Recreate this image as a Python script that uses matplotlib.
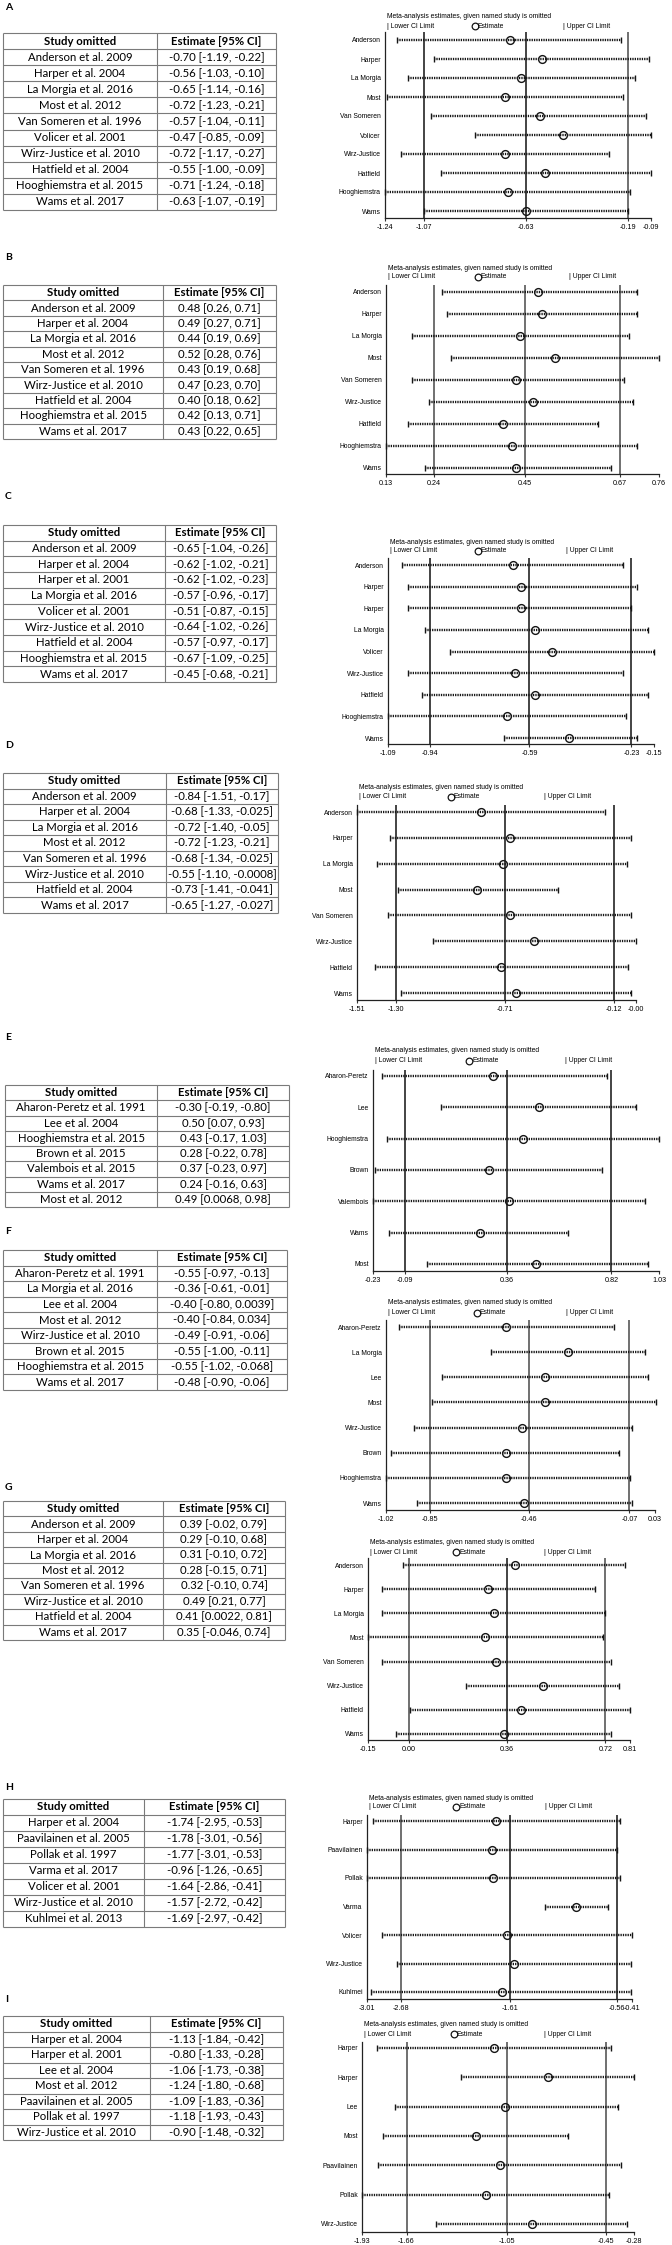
import matplotlib
matplotlib.use("Agg")
import matplotlib.pyplot as plt
from matplotlib.lines import Line2D

# ---------------- DATA ----------------
# Panel A
tab_names_A = ["Anderson et al. 2009", "Harper et al. 2004", "La Morgia et al. 2016", "Most et al. 2012",
               "Van Someren et al. 1996", "Volicer et al. 2001", "Wirz-Justice et al. 2010", "Hatfield et al. 2004",
               "Hooghiemstra et al. 2015", "Wams et al. 2017"]
tab_est_A = ["-0.70 [-1.19, -0.22]", "-0.56 [-1.03, -0.10]", "-0.65 [-1.14, -0.16]", "-0.72 [-1.23, -0.21]",
             "-0.57 [-1.04, -0.11]", "-0.47 [-0.85, -0.09]", "-0.72 [-1.17, -0.27]", "-0.55 [-1.00, -0.09]",
             "-0.71 [-1.24, -0.18]", "-0.63 [-1.07, -0.19]"]
labels_A = ["Anderson", "Harper", "La Morgia", "Most", "Van Someren", "Volicer", "Wirz-Justice", "Hatfield",
            "Hooghiemstra", "Wams"]
est_A = [-0.70, -0.56, -0.65, -0.72, -0.57, -0.47, -0.72, -0.55, -0.71, -0.63]
lo_A = [-1.19, -1.03, -1.14, -1.23, -1.04, -0.85, -1.17, -1.00, -1.24, -1.07]
hi_A = [-0.22, -0.10, -0.16, -0.21, -0.11, -0.09, -0.27, -0.09, -0.18, -0.19]
ticks_A = [-1.24, -1.07, -0.63, -0.19, -0.09]
ticklabels_A = ["-1.24", "-1.07", "-0.63", "-0.19", "-0.09"]

# Panel B
tab_names_B = ["Anderson et al. 2009", "Harper et al. 2004", "La Morgia et al. 2016", "Most et al. 2012",
               "Van Someren et al. 1996", "Wirz-Justice et al. 2010", "Hatfield et al. 2004",
               "Hooghiemstra et al. 2015", "Wams et al. 2017"]
tab_est_B = ["0.48 [0.26, 0.71]", "0.49 [0.27, 0.71]", "0.44 [0.19, 0.69]", "0.52 [0.28, 0.76]",
             "0.43 [0.19, 0.68]", "0.47 [0.23, 0.70]", "0.40 [0.18, 0.62]", "0.42 [0.13, 0.71]",
             "0.43 [0.22, 0.65]"]
labels_B = ["Anderson", "Harper", "La Morgia", "Most", "Van Someren", "Wirz-Justice", "Hatfield",
            "Hooghiemstra", "Wams"]
est_B = [0.48, 0.49, 0.44, 0.52, 0.43, 0.47, 0.40, 0.42, 0.43]
lo_B = [0.26, 0.27, 0.19, 0.28, 0.19, 0.23, 0.18, 0.13, 0.22]
hi_B = [0.71, 0.71, 0.69, 0.76, 0.68, 0.70, 0.62, 0.71, 0.65]
ticks_B = [0.13, 0.24, 0.45, 0.67, 0.76]
ticklabels_B = ["0.13", "0.24", "0.45", "0.67", "0.76"]

# Panel C
tab_names_C = ["Anderson et al. 2009", "Harper et al. 2004", "Harper et al. 2001", "La Morgia et al. 2016",
               "Volicer et al. 2001", "Wirz-Justice et al. 2010", "Hatfield et al. 2004",
               "Hooghiemstra et al. 2015", "Wams et al. 2017"]
tab_est_C = ["-0.65 [-1.04, -0.26]", "-0.62 [-1.02, -0.21]", "-0.62 [-1.02, -0.23]", "-0.57 [-0.96, -0.17]",
             "-0.51 [-0.87, -0.15]", "-0.64 [-1.02, -0.26]", "-0.57 [-0.97, -0.17]", "-0.67 [-1.09, -0.25]",
             "-0.45 [-0.68, -0.21]"]
labels_C = ["Anderson", "Harper", "Harper", "La Morgia", "Volicer", "Wirz-Justice", "Hatfield",
            "Hooghiemstra", "Wams"]
est_C = [-0.65, -0.62, -0.62, -0.57, -0.51, -0.64, -0.57, -0.67, -0.45]
lo_C = [-1.04, -1.02, -1.02, -0.96, -0.87, -1.02, -0.97, -1.09, -0.68]
hi_C = [-0.26, -0.21, -0.23, -0.17, -0.15, -0.26, -0.17, -0.25, -0.21]
ticks_C = [-1.09, -0.94, -0.59, -0.23, -0.15]
ticklabels_C = ["-1.09", "-0.94", "-0.59", "-0.23", "-0.15"]

# Panel D
tab_names_D = ["Anderson et al. 2009", "Harper et al. 2004", "La Morgia et al. 2016", "Most et al. 2012",
               "Van Someren et al. 1996", "Wirz-Justice et al. 2010", "Hatfield et al. 2004", "Wams et al. 2017"]
tab_est_D = ["-0.84 [-1.51, -0.17]", "-0.68 [-1.33, -0.025]", "-0.72 [-1.40, -0.05]", "-0.72 [-1.23, -0.21]",
             "-0.68 [-1.34, -0.025]", "-0.55 [-1.10, -0.0008]", "-0.73 [-1.41, -0.041]", "-0.65 [-1.27, -0.027]"]
labels_D = ["Anderson", "Harper", "La Morgia", "Most", "Van Someren", "Wirz-Justice", "Hatfield", "Wams"]
est_D = [-0.84, -0.68, -0.72, -0.86, -0.68, -0.55, -0.73, -0.65]
lo_D = [-1.51, -1.33, -1.40, -1.29, -1.34, -1.10, -1.41, -1.27]
hi_D = [-0.17, -0.025, -0.05, -0.42, -0.025, -0.0008, -0.041, -0.027]
ticks_D = [-1.51, -1.30, -0.71, -0.12, 0.00]
ticklabels_D = ["-1.51", "-1.30", "-0.71", "-0.12", "-0.00"]

# Panel E
tab_names_E = ["Aharon-Peretz et al. 1991", "Lee et al. 2004", "Hooghiemstra et al. 2015", "Brown et al. 2015",
               "Valembois et al. 2015", "Wams et al. 2017", "Most et al. 2012"]
tab_est_E = ["-0.30 [-0.19, -0.80]", "0.50 [0.07, 0.93]", "0.43 [-0.17, 1.03]", "0.28 [-0.22, 0.78]",
             "0.37 [-0.23, 0.97]", "0.24 [-0.16, 0.63]", "0.49 [0.0068, 0.98]"]
labels_E = ["Aharon-Peretz", "Lee", "Hooghiemstra", "Brown", "Valembois", "Wams", "Most"]
est_E = [0.30, 0.50, 0.43, 0.28, 0.37, 0.24, 0.49]
lo_E = [-0.19, 0.07, -0.17, -0.22, -0.23, -0.16, 0.0068]
hi_E = [0.80, 0.93, 1.03, 0.78, 0.97, 0.63, 0.98]
ticks_E = [-0.23, -0.09, 0.36, 0.82, 1.03]
ticklabels_E = ["-0.23", "-0.09", "0.36", "0.82", "1.03"]

# Panel F
tab_names_F = ["Aharon-Peretz et al. 1991", "La Morgia et al. 2016", "Lee et al. 2004", "Most et al. 2012",
               "Wirz-Justice et al. 2010", "Brown et al. 2015", "Hooghiemstra et al. 2015", "Wams et al. 2017"]
tab_est_F = ["-0.55 [-0.97, -0.13]", "-0.36 [-0.61, -0.01]", "-0.40 [-0.80, 0.0039]", "-0.40 [-0.84, 0.034]",
             "-0.49 [-0.91, -0.06]", "-0.55 [-1.00, -0.11]", "-0.55 [-1.02, -0.068]", "-0.48 [-0.90, -0.06]"]
labels_F = ["Aharon-Peretz", "La Morgia", "Lee", "Most", "Wirz-Justice", "Brown", "Hooghiemstra", "Wams"]
est_F = [-0.55, -0.31, -0.40, -0.40, -0.49, -0.55, -0.55, -0.48]
lo_F = [-0.97, -0.61, -0.80, -0.84, -0.91, -1.00, -1.02, -0.90]
hi_F = [-0.13, -0.01, 0.0039, 0.034, -0.06, -0.11, -0.068, -0.06]
ticks_F = [-1.02, -0.85, -0.46, -0.07, 0.03]
ticklabels_F = ["-1.02", "-0.85", "-0.46", "-0.07", "0.03"]

# Panel G
tab_names_G = ["Anderson et al. 2009", "Harper et al. 2004", "La Morgia et al. 2016", "Most et al. 2012",
               "Van Someren et al. 1996", "Wirz-Justice et al. 2010", "Hatfield et al. 2004", "Wams et al. 2017"]
tab_est_G = ["0.39 [-0.02, 0.79]", "0.29 [-0.10, 0.68]", "0.31 [-0.10, 0.72]", "0.28 [-0.15, 0.71]",
             "0.32 [-0.10, 0.74]", "0.49 [0.21, 0.77]", "0.41 [0.0022, 0.81]", "0.35 [-0.046, 0.74]"]
labels_G = ["Anderson", "Harper", "La Morgia", "Most", "Van Someren", "Wirz-Justice", "Hatfield", "Wams"]
est_G = [0.39, 0.29, 0.31, 0.28, 0.32, 0.49, 0.41, 0.35]
lo_G = [-0.02, -0.10, -0.10, -0.15, -0.10, 0.21, 0.0022, -0.046]
hi_G = [0.79, 0.68, 0.72, 0.71, 0.74, 0.77, 0.81, 0.74]
ticks_G = [-0.15, 0.00, 0.36, 0.72, 0.81]
ticklabels_G = ["-0.15", "0.00", "0.36", "0.72", "0.81"]

# Panel H
tab_names_H = ["Harper et al. 2004", "Paavilainen et al. 2005", "Pollak et al. 1997", "Varma et al. 2017",
               "Volicer et al. 2001", "Wirz-Justice et al. 2010", "Kuhlmei et al. 2013"]
tab_est_H = ["-1.74 [-2.95, -0.53]", "-1.78 [-3.01, -0.56]", "-1.77 [-3.01, -0.53]", "-0.96 [-1.26, -0.65]",
             "-1.64 [-2.86, -0.41]", "-1.57 [-2.72, -0.42]", "-1.69 [-2.97, -0.42]"]
labels_H = ["Harper", "Paavilainen", "Pollak", "Varma", "Volicer", "Wirz-Justice", "Kuhlmei"]
est_H = [-1.74, -1.78, -1.77, -0.96, -1.64, -1.57, -1.69]
lo_H = [-2.95, -3.01, -3.01, -1.26, -2.86, -2.72, -2.97]
hi_H = [-0.53, -0.56, -0.53, -0.65, -0.41, -0.42, -0.42]
ticks_H = [-3.01, -2.68, -1.61, -0.56, -0.41]
ticklabels_H = ["-3.01", "-2.68", "-1.61", "-0.56", "-0.41"]

# Panel I
tab_names_I = ["Harper et al. 2004", "Harper et al. 2001", "Lee et al. 2004", "Most et al. 2012",
               "Paavilainen et al. 2005", "Pollak et al. 1997", "Wirz-Justice et al. 2010"]
tab_est_I = ["-1.13 [-1.84, -0.42]", "-0.80 [-1.33, -0.28]", "-1.06 [-1.73, -0.38]", "-1.24 [-1.80, -0.68]",
             "-1.09 [-1.83, -0.36]", "-1.18 [-1.93, -0.43]", "-0.90 [-1.48, -0.32]"]
labels_I = ["Harper", "Harper", "Lee", "Most", "Paavilainen", "Pollak", "Wirz-Justice"]
est_I = [-1.13, -0.80, -1.06, -1.24, -1.09, -1.18, -0.90]
lo_I = [-1.84, -1.33, -1.73, -1.80, -1.83, -1.93, -1.48]
hi_I = [-0.42, -0.28, -0.38, -0.68, -0.36, -0.43, -0.32]
ticks_I = [-1.93, -1.66, -1.05, -0.45, -0.28]
ticklabels_I = ["-1.93", "-1.66", "-1.05", "-0.45", "-0.28"]

panel_letters = ["A", "B", "C", "D", "E", "F", "G", "H", "I"]

# ---------------- LAYOUT (pixels) ----------------
W, H = 672, 2245
BK, GR = "#111111", "#707070"
layout = {
    "A": dict(label=7, table=(3, 33, 276, 210, 157), plot=(385, 651, 16, 26, 32, 40, 211, 218), ref=(BK, BK, GR)),
    "B": dict(label=258, table=(3, 285, 276, 439, 163), plot=(386, 659, 268, 277, 285, 292, 468, 474), ref=(GR, GR, GR)),
    "C": dict(label=497, table=(3, 525, 276, 682, 165), plot=(388, 654, 542, 551, 558, 565, 738, 744), ref=(BK, BK, BK)),
    "D": dict(label=745, table=(3, 773, 278, 913, 166), plot=(357, 636, 787, 797, 805, 812, 993, 1000), ref=(BK, BK, BK)),
    "E": dict(label=1037, table=(5, 1085, 289, 1207, 157), plot=(373, 659, 1051, 1061, 1070, 1076, 1264, 1271), ref=(BK, BK, BK)),
    "F": dict(label=1232, table=(3, 1250, 287, 1390, 157), plot=(386, 655, 1303, 1313, 1320, 1327, 1503, 1510), ref=(GR, GR, GR)),
    "G": dict(label=1488, table=(3, 1501, 285, 1640, 163), plot=(368, 630, 1542, 1552, 1558, 1565, 1734, 1740), ref=(GR, BK, GR)),
    "H": dict(label=1787, table=(3, 1799, 285, 1927, 144), plot=(367, 632, 1798, 1807, 1815, 1821, 1992, 1999), ref=(GR, BK, BK)),
    "I": dict(label=2000, table=(3, 2016, 283, 2140, 150), plot=(362, 634, 2024, 2034, 2042, 2048, 2224, 2232), ref=(GR, GR, GR)),
}

data = {
    "A": (tab_names_A, tab_est_A, labels_A, est_A, lo_A, hi_A, ticks_A, ticklabels_A),
    "B": (tab_names_B, tab_est_B, labels_B, est_B, lo_B, hi_B, ticks_B, ticklabels_B),
    "C": (tab_names_C, tab_est_C, labels_C, est_C, lo_C, hi_C, ticks_C, ticklabels_C),
    "D": (tab_names_D, tab_est_D, labels_D, est_D, lo_D, hi_D, ticks_D, ticklabels_D),
    "E": (tab_names_E, tab_est_E, labels_E, est_E, lo_E, hi_E, ticks_E, ticklabels_E),
    "F": (tab_names_F, tab_est_F, labels_F, est_F, lo_F, hi_F, ticks_F, ticklabels_F),
    "G": (tab_names_G, tab_est_G, labels_G, est_G, lo_G, hi_G, ticks_G, ticklabels_G),
    "H": (tab_names_H, tab_est_H, labels_H, est_H, lo_H, hi_H, ticks_H, ticklabels_H),
    "I": (tab_names_I, tab_est_I, labels_I, est_I, lo_I, hi_I, ticks_I, ticklabels_I),
}

TAB_FONT = ["Lato", "DejaVu Sans"]
PLT_FONT = ["Liberation Sans", "DejaVu Sans"]
PFS = 4.9
TKFS = 5.2
TFS = 8.2


def rect(l, t, r, b):
    return [l / W, 1 - b / H, (r - l) / W, (b - t) / H]


def fx(x):
    return x / W


def fy(y):
    return 1 - y / H


fig = plt.figure(figsize=(W / 100, H / 100), dpi=100)
fig.patch.set_facecolor("white")

for letter in panel_letters:
    lay = layout[letter]
    tnames, testr, labels, est, lo, hi, ticks, ticklabels = data[letter]
    n = len(labels)

    # panel letter
    fig.text(fx(5), fy(lay["label"]), letter, family=TAB_FONT, weight="bold", fontsize=7.5,
             ha="left", va="center")

    # ---- table ----
    tl, tt, tr, tb, tdiv = lay["table"]
    axt = fig.add_axes(rect(tl, tt, tr, tb))
    axt.set_xlim(0, 1)
    nrows = len(tnames) + 1
    axt.set_ylim(nrows, 0)
    axt.axis("off")
    dfrac = (tdiv - tl) / (tr - tl)
    lc = "#7a7a7a"
    for k in range(nrows + 1):
        axt.plot([0, 1], [k, k], color=lc, lw=0.8, clip_on=False, solid_capstyle="butt")
    for xv in (0, dfrac, 1):
        axt.plot([xv, xv], [0, nrows], color=lc, lw=0.8, clip_on=False, solid_capstyle="butt")
    axt.text(dfrac / 2, 0.5, "Study omitted", ha="center", va="center", family=TAB_FONT,
             weight="bold", fontsize=TFS)
    axt.text((1 + dfrac) / 2, 0.5, "Estimate [95% CI]", ha="center", va="center", family=TAB_FONT,
             weight="bold", fontsize=TFS)
    for k, (nm, es) in enumerate(zip(tnames, testr)):
        axt.text(dfrac / 2, k + 1.5, nm, ha="center", va="center", family=TAB_FONT, fontsize=TFS)
        axt.text((1 + dfrac) / 2, k + 1.5, es, ha="center", va="center", family=TAB_FONT, fontsize=TFS)

    # ---- plot ----
    L, R, ty, ly, top, first, last, bot = lay["plot"]
    ax = fig.add_axes(rect(L, top, R, bot))
    s = (last - first) / (n - 1)
    ax.set_xlim(ticks[0], ticks[-1])
    ax.set_ylim((n - 1) + (bot - last) / s, -(first - top) / s)
    for v, c in zip(ticks[1:4], lay["ref"]):
        ax.axvline(v, color=c, lw=1.1 if c == BK else 1.4, zorder=1)
    for i in range(n):
        ax.plot([lo[i], hi[i]], [i, i], color="#151515", lw=1.7, ls=(0, (0.55, 0.45)),
                clip_on=False, zorder=2)
        ax.plot([lo[i], hi[i]], [i, i], ls="none", marker="|", ms=4.8, mew=1.0, color="#151515",
                clip_on=False, zorder=3)
        ax.plot([est[i]], [i], marker="o", ms=5.6, mfc="none", mec="#151515", mew=1.0,
                clip_on=False, zorder=4)
    ax.set_xticks(ticks)
    ax.set_xticklabels(ticklabels, family=PLT_FONT, fontsize=TKFS)
    ax.set_yticks(range(n))
    ax.set_yticklabels(labels, family=PLT_FONT, fontsize=PFS)
    ax.tick_params(axis="x", length=2.5, width=0.8, pad=1.5, color="#333333")
    ax.tick_params(axis="y", length=0, pad=3)
    for sp in ("top", "right"):
        ax.spines[sp].set_visible(False)
    for sp in ("left", "bottom"):
        ax.spines[sp].set_linewidth(0.9)
        ax.spines[sp].set_color("#222222")
    ax.set_facecolor("none")

    # title & legend
    w = R - L
    fig.text(fx(L + 2), fy(ty), "Meta-analysis estimates, given named study is omitted",
             family=PLT_FONT, fontsize=PFS, ha="left", va="center")
    fig.text(fx(L + 2), fy(ly), "| Lower CI Limit", family=PLT_FONT, fontsize=PFS, ha="left", va="center")
    cx = L + 0.33 * w
    fig.add_artist(Line2D([fx(cx + 2)], [fy(ly)], marker="o", ms=4.8, mfc="none", mec="#151515",
                          mew=0.9, transform=fig.transFigure))
    fig.text(fx(cx + 4.8), fy(ly), "Estimate", family=PLT_FONT, fontsize=PFS, ha="left", va="center")
    fig.text(fx(L + 0.67 * w), fy(ly), "| Upper CI Limit", family=PLT_FONT, fontsize=PFS, ha="left",
             va="center")

fig.savefig("out.png", dpi=100, facecolor="white")
